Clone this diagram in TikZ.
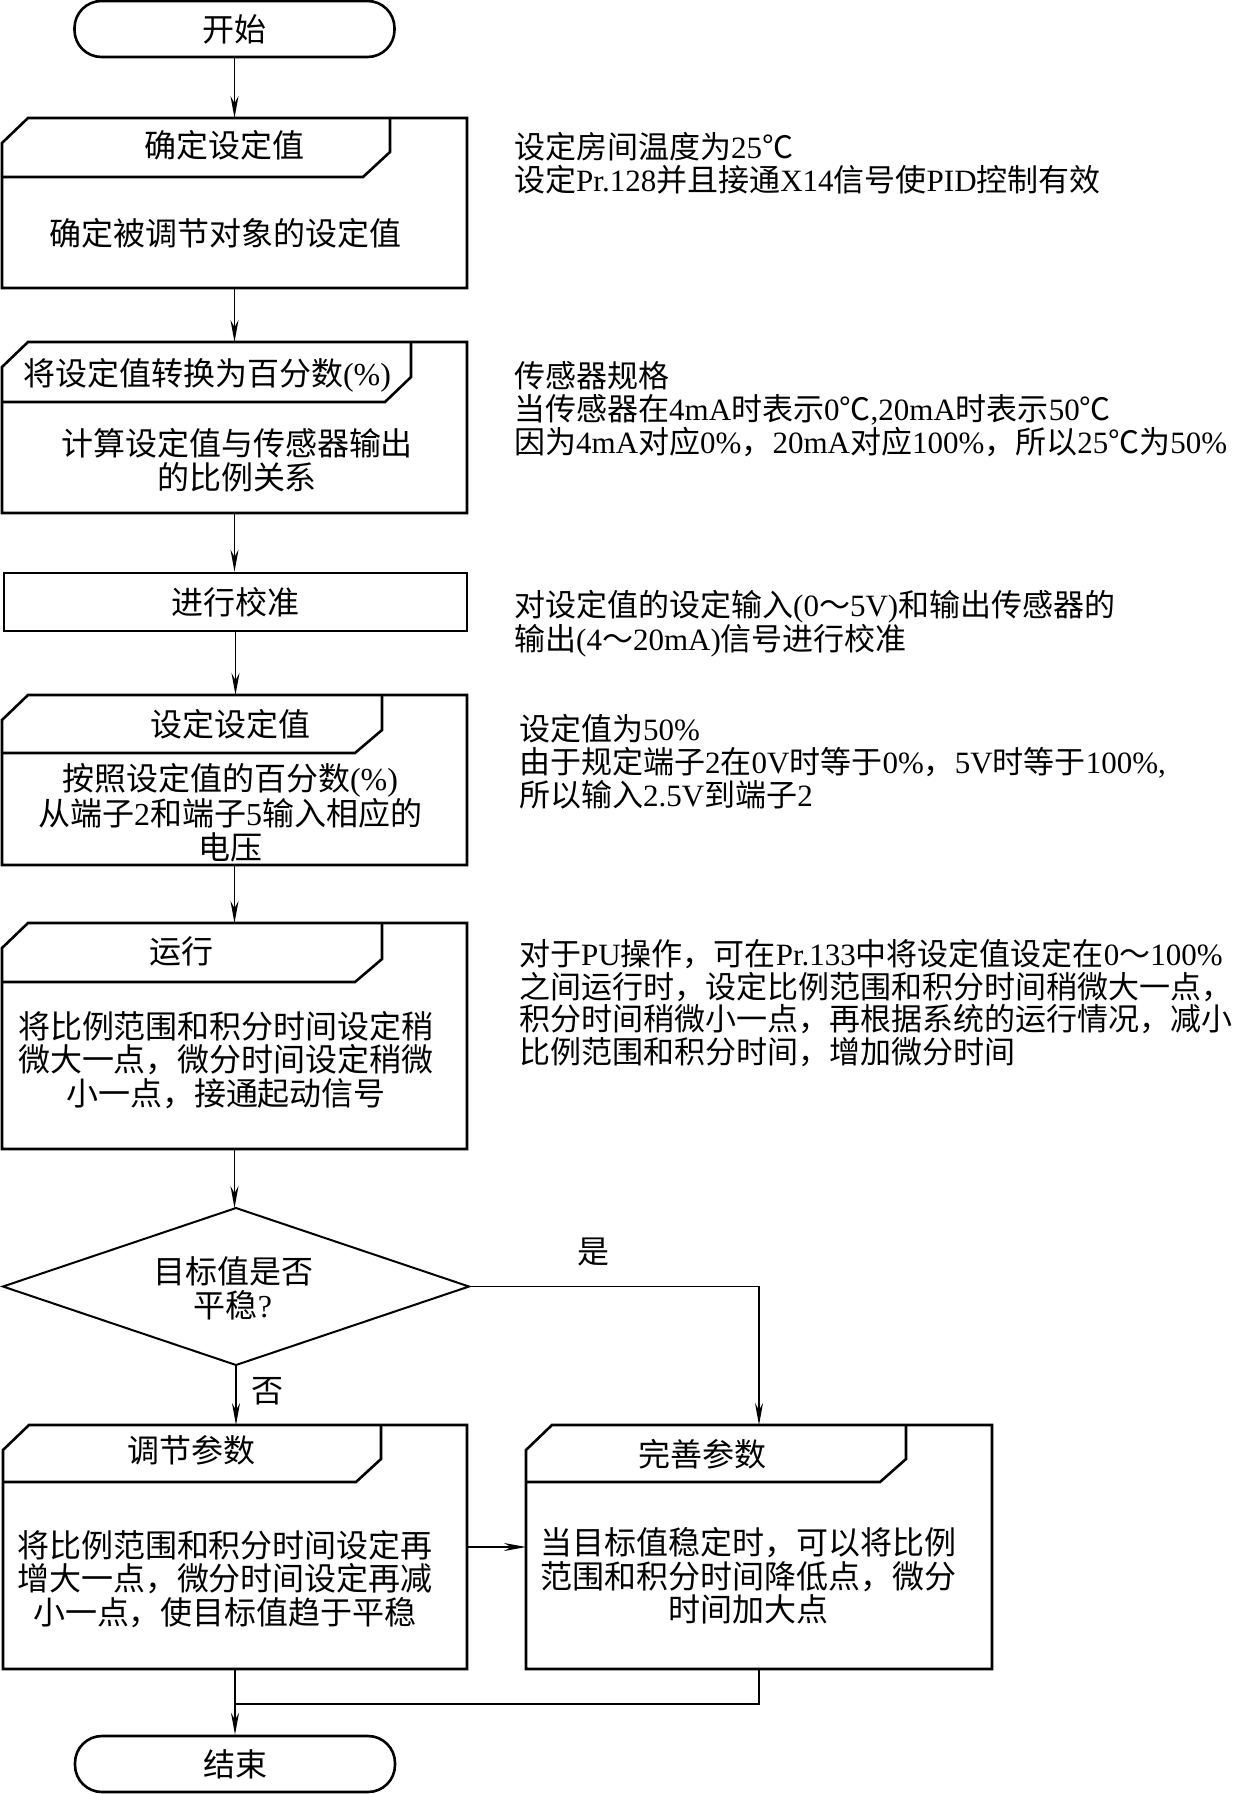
\documentclass[tikz,border=0pt]{standalone}
\usepackage{fontspec}
\setmainfont{Noto Sans CJK SC}
\newfontfamily\latfont{Liberation Serif}
\newcommand\lt[1]{{\latfont #1}}
\usetikzlibrary{arrows.meta}
\newcommand\cardframe[5]{%
  \draw[boxline] ([yshift=-25pt]#1.north west) -- ([xshift=26pt]#1.north west) -- (#1.north east) -- (#1.south east) -- (#1.south west) -- cycle;
  \draw[boxline] ([yshift=-#2pt]#1.north west) -- ([xshift=#3pt,yshift=-#2pt]#1.north west) -- ([xshift=#4pt,yshift=-#5pt]#1.north west) -- ([xshift=#4pt]#1.north west);}
\begin{document}
\begin{tikzpicture}[x=1pt,y=-1pt,
  boxline/.style={line width=2.6pt, line join=miter},
  frame/.style={draw=none, inner sep=0pt, outer sep=0pt},
  txt/.style={inner sep=0pt, align=center, font=\fontsize{32}{33.5}\selectfont},
  note/.style={inner sep=0pt, align=left, anchor=west, font=\fontsize{31}{32.8}\selectfont},
  term/.style={draw, line width=2.6pt, rounded corners=27pt, inner sep=0pt, minimum width=320pt, minimum height=56pt, font=\fontsize{32}{33.5}\selectfont},
  flow/.style={line width=1.5pt, -{Stealth[length=22pt,width=8pt]}},
  thinflow/.style={line width=1.1pt, -{Stealth[length=22pt,width=8pt]}},
  thin/.style={line width=1.1pt}]
\useasboundingbox (0,0) rectangle (1253,1794);

% terminals
\node[term] (start) at (234.5,29) {开始};
\node[term] (end) at (235,1764) {结束};

% box frames
\node[frame, minimum width=465pt, minimum height=170pt] (b1) at (234.5,203) {};
\cardframe{b1}{59}{361}{388}{34}
\node[frame, minimum width=465pt, minimum height=171pt] (b2) at (234.5,427.5) {};
\cardframe{b2}{60}{383}{409}{35}
\node[draw, line width=2.6pt, inner sep=0pt, minimum width=463pt, minimum height=58pt, font=\fontsize{32}{33.5}\selectfont] (b3) at (235.5,602) {进行校准};
\node[frame, minimum width=465pt, minimum height=170pt] (b4) at (234.5,780) {};
\cardframe{b4}{58}{353}{380}{35}
\node[frame, minimum width=465pt, minimum height=226pt] (b5) at (234.5,1036) {};
\cardframe{b5}{59}{353}{380}{36}
\node[frame, minimum width=466pt, minimum height=157pt] (d) at (236,1286.5) {};
\draw[line width=2pt, line join=miter] (d.north) -- (d.east) -- (d.south) -- (d.west) -- cycle;
\node[frame, minimum width=464pt, minimum height=244pt] (lb) at (235,1547) {};
\cardframe{lb}{57}{353}{378}{34}
\node[frame, minimum width=466pt, minimum height=244pt] (rb) at (759,1547) {};
\cardframe{rb}{57}{354}{380}{34}

% box texts
\node[txt] (t1) at (224,145) {确定设定值};
\node[txt] (m1) at (225,233) {确定被调节对象的设定值};
\node[txt] (t2) at (207,375) {将设定值转换为百分数\lt{(\%)}};
\node[txt] (m2) at (237,460) {计算设定值与传感器输出\\的比例关系};
\node[txt] (t4) at (230,724) {设定设定值};
\node[txt] (m4) at (230,812.5) {按照设定值的百分数\lt{(\%)}\\从端子\lt{2}和端子\lt{5}输入相应的\\电压};
\node[txt] (t5) at (181,951) {运行};
\node[txt] (m5) at (226,1060) {将比例范围和积分时间设定稍\\微大一点，微分时间设定稍微\\小一点，接通起动信号};
\node[txt] (dt) at (233,1288.5) {目标值是否\\平稳\lt{?}};
\node[txt] (yes) at (593,1252) {是};
\node[txt] (no) at (267,1391) {否};
\node[txt] (tl) at (191,1450) {调节参数};
\node[txt] (ml) at (225,1579) {将比例范围和积分时间设定再\\增大一点，微分时间设定再减\\小一点，使目标值趋于平稳};
\node[txt] (tr) at (702,1454) {完善参数};
\node[txt] (mr) at (748,1576) {当目标值稳定时，可以将比例\\范围和积分时间降低点，微分\\时间加大点};

% annotations
\node[note] (n1) at (514,163.5) {设定房间温度为\lt{25}℃\\设定\lt{Pr.128}并且接通\lt{X14}信号使\lt{PID}控制有效};
\node[note] (n2) at (514,409) {传感器规格\\当传感器在\lt{4mA}时表示\lt{0}℃\lt{,20mA}时表示\lt{50}℃\\因为\lt{4mA}对应\lt{0\%}，\lt{20mA}对应\lt{100\%}，所以\lt{25}℃为\lt{50\%}};
\node[note] (n3) at (514,624) {对设定值的设定输入\lt{(0}～\lt{5V)}和输出传感器的\\输出\lt{(4}～\lt{20mA)}信号进行校准};
\node[note] (n4) at (519,761.5) {设定值为\lt{50\%}\\由于规定端子\lt{2}在\lt{0V}时等于\lt{0\%}，\lt{5V}时等于\lt{100\%,}\\所以输入\lt{2.5V}到端子\lt{2}};
\node[note] (n5) at (519,1003) {对于\lt{PU}操作，可在\lt{Pr.133}中将设定值设定在\lt{0}～\lt{100\%}\\之间运行时，设定比例范围和积分时间稍微大一点，\\积分时间稍微小一点，再根据系统的运行情况，减小\\比例范围和积分时间，增加微分时间};

% connectors
\draw[flow] (start.south) -- (b1.north);
\draw[flow] (b1.south) -- (b2.north);
\draw[flow] (b2.south) -- (b2.south |- b3.north);
\draw[flow] (b3.south) -- (b3.south |- b4.north);
\draw[flow] (b4.south) -- (b5.north);
\draw[flow] (b5.south) -- (b5.south |- d.north);
\draw[thinflow] (d.south) -- (d.south |- lb.north);
\draw[thinflow] (d.east) -| (rb.north);
\draw[thinflow] (lb.east) -- (rb.west);
\draw[flow] (lb.south) -- (end.north);
\coordinate (m) at (235,1704);
\draw[thin] (rb.south) |- (m);
\end{tikzpicture}
\end{document}
